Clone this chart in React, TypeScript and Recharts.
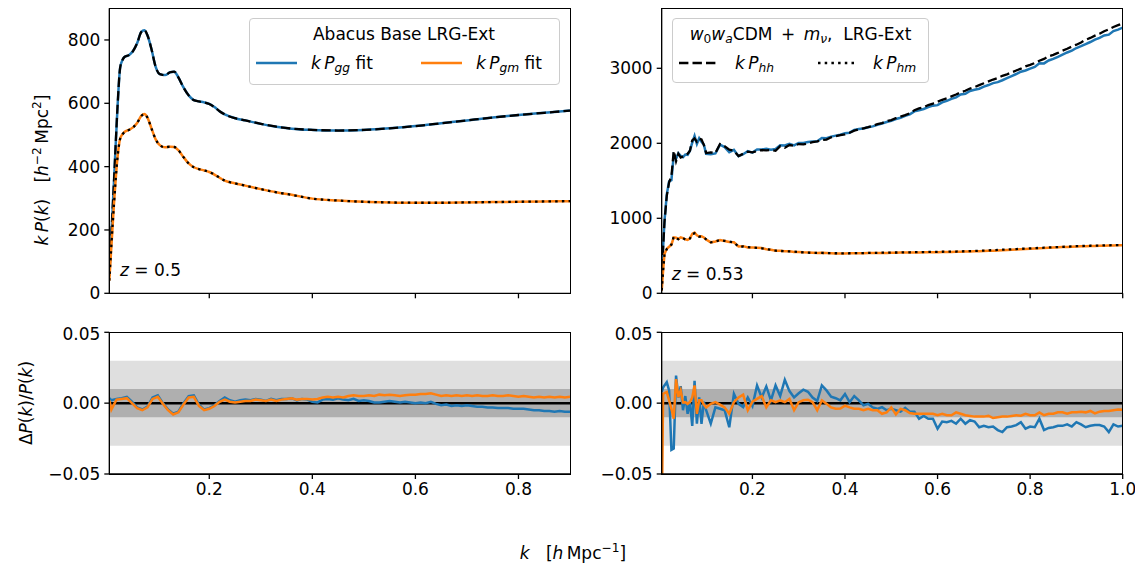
import React from 'react';
import { LineChart, Line, XAxis, YAxis, ReferenceArea, ReferenceLine } from 'recharts';

const FONT = '"DejaVu Sans", sans-serif';
const BLUE = '#1f77b4';
const ORANGE = '#ff7f0e';

// ---- left column: Abacus Base LRG-Ext, z = 0.5 ----
const kBase = [0.006, 0.015, 0.022, 0.027, 0.032, 0.036, 0.044, 0.052, 0.06, 0.068, 0.074, 0.08, 0.088, 0.096, 0.104, 0.114, 0.124, 0.132, 0.14, 0.15, 0.16, 0.17, 0.18, 0.19, 0.2, 0.21, 0.22, 0.23, 0.25, 0.27, 0.3, 0.33, 0.36, 0.4, 0.45, 0.5, 0.55, 0.6, 0.65, 0.7, 0.75, 0.8, 0.85, 0.9];
const kPggBase = [55, 350, 590, 712, 738, 747, 752, 765, 790, 825, 831, 815, 770, 715, 692, 689, 698, 700, 682, 650, 625, 610, 606, 603, 598, 588, 575, 565, 553, 546, 535, 526, 520, 516, 514, 516, 521, 528, 537, 546, 555, 563, 570, 577];
const kPgmBase = [40, 280, 430, 488, 503, 510, 516, 524, 538, 560, 566, 555, 520, 486, 468, 461, 463, 462, 452, 430, 410, 398, 392, 388, 383, 375, 365, 356, 347, 340, 329, 319, 311, 299, 293, 289, 287, 286, 286, 287, 288, 289, 290, 291];

const kBaseRes = [0.006, 0.01, 0.02, 0.03, 0.04, 0.05, 0.06, 0.07, 0.08, 0.09, 0.1, 0.11, 0.12, 0.13, 0.14, 0.15, 0.16, 0.17, 0.18, 0.19, 0.2, 0.21, 0.22, 0.23, 0.24, 0.25, 0.26, 0.27, 0.28, 0.29, 0.3, 0.31, 0.32, 0.33, 0.34, 0.35, 0.36, 0.37, 0.38, 0.39, 0.4, 0.41, 0.42, 0.43, 0.44, 0.45, 0.46, 0.47, 0.48, 0.49, 0.5, 0.51, 0.52, 0.53, 0.54, 0.55, 0.56, 0.57, 0.58, 0.59, 0.6, 0.61, 0.62, 0.63, 0.64, 0.65, 0.66, 0.67, 0.68, 0.69, 0.7, 0.71, 0.72, 0.73, 0.74, 0.75, 0.76, 0.77, 0.78, 0.79, 0.8, 0.81, 0.82, 0.83, 0.84, 0.85, 0.86, 0.87, 0.88, 0.89, 0.9];
const dPggBase = [0.0035, 0.002, 0.003, 0.0035, 0.0045, 0.001, -0.003, -0.0045, -0.0025, 0.004, 0.0055, 0, -0.0045, -0.0075, -0.006, 0, 0.005, 0.0055, -0.001, -0.0045, -0.0035, -0.0015, 0.0015, 0.004, 0.002, 0.001, 0.002, 0.0025, 0.002, 0.003, 0.0025, 0.0015, 0.003, 0.002, 0.003, 0.003, 0.0035, 0.002, 0.003, 0.0025, 0.001, 0.0005, 0.0025, 0.003, 0.0025, 0.0035, 0.0025, 0.002, 0.003, 0.0015, 0.002, 0.0015, 0.0005, 0.0005, 0.001, 0.0015, 0.001, 0.0005, 0.001, 0.0005, 0, 0.0005, 0, 0.001, -0.0005, -0.0015, -0.001, -0.002, -0.0015, -0.002, -0.0015, -0.002, -0.0025, -0.0025, -0.003, -0.003, -0.0035, -0.0035, -0.0035, -0.004, -0.004, -0.004, -0.0045, -0.005, -0.005, -0.0055, -0.0055, -0.006, -0.0055, -0.006, -0.006];
const dPgmBase = [0.002, -0.0045, 0.0025, 0.003, 0.0035, 0, -0.0035, -0.005, -0.003, 0.003, 0.0045, -0.0005, -0.005, -0.008, -0.0065, -0.001, 0.004, 0.0045, -0.002, -0.005, -0.004, -0.002, 0.001, 0.0025, 0.001, 0.0005, 0.001, 0.0015, 0.0015, 0.0025, 0.002, 0.0015, 0.0025, 0.0015, 0.0025, 0.003, 0.0035, 0.0025, 0.003, 0.003, 0.0025, 0.003, 0.004, 0.0045, 0.004, 0.0045, 0.004, 0.005, 0.0055, 0.005, 0.005, 0.0055, 0.005, 0.006, 0.0055, 0.006, 0.0055, 0.005, 0.0055, 0.006, 0.006, 0.0065, 0.0065, 0.007, 0.006, 0.005, 0.0055, 0.005, 0.0055, 0.005, 0.0055, 0.005, 0.0055, 0.005, 0.005, 0.0055, 0.005, 0.005, 0.0055, 0.005, 0.0045, 0.005, 0.0045, 0.004, 0.0045, 0.004, 0.0045, 0.004, 0.0045, 0.004, 0.0045];

// ---- right column: w0waCDM + m_nu, LRG-Ext, z = 0.53 ----
const kW0 = [0.004, 0.007, 0.01, 0.015, 0.02, 0.025, 0.03, 0.035, 0.04, 0.045, 0.05, 0.055, 0.06, 0.065, 0.07, 0.075, 0.08, 0.085, 0.09, 0.095, 0.1, 0.11, 0.12, 0.13, 0.14, 0.15, 0.16, 0.17, 0.18, 0.19, 0.2, 0.21, 0.22, 0.23, 0.24, 0.25, 0.26, 0.27, 0.28, 0.29, 0.3, 0.31, 0.32, 0.33, 0.34, 0.35, 0.36, 0.37, 0.38, 0.39, 0.4, 0.41, 0.42, 0.43, 0.44, 0.45, 0.46, 0.47, 0.48, 0.49, 0.5, 0.51, 0.52, 0.53, 0.54, 0.55, 0.56, 0.57, 0.58, 0.59, 0.6, 0.61, 0.62, 0.63, 0.64, 0.65, 0.66, 0.67, 0.68, 0.69, 0.7, 0.71, 0.72, 0.73, 0.74, 0.75, 0.76, 0.77, 0.78, 0.79, 0.8, 0.81, 0.82, 0.83, 0.84, 0.85, 0.86, 0.87, 0.88, 0.89, 0.9, 0.91, 0.92, 0.93, 0.94, 0.95, 0.96, 0.97, 0.98, 0.99, 1.0];
const kPhhW0 = [150, 600, 950, 1300, 1480, 1560, 1900, 1760, 1860, 1810, 1825, 1840, 1860, 1900, 2040, 2066, 2020, 2060, 2050, 1980, 1870, 1880, 1870, 1990, 1960, 1915, 1900, 1830, 1860, 1888, 1880, 1895, 1910, 1905, 1910, 1900, 1963, 1940, 1977, 1965, 1990, 1985, 2000, 2015, 2025, 2044, 2050, 2080, 2095, 2110, 2120, 2140, 2168, 2185, 2200, 2215, 2232, 2255, 2270, 2295, 2310, 2335, 2355, 2375, 2400, 2440, 2466, 2480, 2510, 2530, 2555, 2580, 2600, 2625, 2650, 2680, 2700, 2730, 2750, 2775, 2800, 2825, 2850, 2870, 2900, 2920, 2945, 2970, 2995, 3025, 3045, 3070, 3100, 3125, 3160, 3180, 3205, 3235, 3260, 3290, 3315, 3345, 3380, 3405, 3435, 3460, 3495, 3520, 3550, 3575, 3600];
const kPhmW0 = [40, 300, 520, 590, 620, 650, 755, 730, 722, 740, 735, 720, 711, 730, 790, 800, 780, 755, 760, 745, 720, 680, 690, 711, 700, 690, 680, 621, 625, 615, 610, 605, 600, 590, 580, 568, 565, 560, 558, 555, 550, 545, 542, 540, 540, 538, 536, 535, 534, 533, 533, 534, 535, 536, 537, 538, 539, 540, 541, 542, 543, 544, 545, 546, 547, 548, 549, 550, 551, 552, 553, 554, 555, 556, 557, 559, 561, 563, 565, 567, 570, 572, 575, 578, 581, 584, 587, 590, 593, 596, 599, 602, 605, 608, 611, 614, 617, 620, 622, 625, 628, 630, 632, 634, 636, 637, 639, 640, 642, 643, 644];
const dPggW0 = [0.008, 0.011, 0.0125, 0.0148, 0.009, -0.033, -0.032, 0.0195, 0.004, 0.012, -0.005, 0.005, -0.0075, 0.001, -0.016, 0.0158, -0.0145, 0.004, -0.0146, 0.001, -0.005, -0.0145, -0.003, -0.004, -0.005, -0.017, 0.0066, -0.0005, -0.0028, 0.004, -0.002, 0.0125, 0.004, 0.0118, 0.002, 0.0125, 0.005, 0.0165, 0.0085, 0.004, 0.007, 0.0095, 0.008, 0.004, 0.0015, 0.0125, 0.009, 0.0045, 0.0035, 0.002, 0.0065, 0.0007, 0.005, 0.002, -0.0015, -0.0005, -0.003, -0.004, -0.0028, -0.005, -0.004, -0.005, -0.006, -0.0033, -0.006, -0.006, -0.011, -0.009, -0.011, -0.011, -0.018, -0.013, -0.0134, -0.0125, -0.0145, -0.011, -0.0145, -0.012, -0.013, -0.017, -0.016, -0.017, -0.0165, -0.019, -0.0204, -0.017, -0.0165, -0.0155, -0.0135, -0.018, -0.0165, -0.017, -0.011, -0.019, -0.0175, -0.017, -0.016, -0.016, -0.015, -0.0165, -0.0134, -0.015, -0.017, -0.016, -0.0155, -0.0155, -0.0165, -0.0204, -0.015, -0.0165, -0.016];
const dPgmW0 = [-0.09, 0.0066, 0.007, 0.0078, 0.002, -0.004, -0.011, 0.017, 0.0042, 0.009, 0.0005, 0.0007, -0.0005, 0.0008, 0.004, 0.0125, -0.0075, 0.002, 0.002, -0.001, -0.003, -0.0005, 0.0007, -0.001, -0.003, -0.0075, 0.0007, 0.004, 0.006, -0.005, 0.001, 0.003, 0.005, -0.003, 0.002, 0.0007, 0.002, 0.0007, 0.003, -0.005, 0.0007, 0.002, 0.0024, 0.0007, -0.005, 0.002, -0.0005, -0.003, -0.004, -0.0038, -0.0018, -0.003, -0.004, -0.004, -0.005, -0.004, -0.005, -0.005, -0.0075, -0.0065, -0.003, -0.008, -0.004, -0.005, -0.007, -0.0075, -0.0075, -0.0075, -0.0075, -0.0075, -0.0085, -0.0075, -0.0085, -0.0085, -0.0065, -0.0075, -0.0085, -0.009, -0.0095, -0.0095, -0.0095, -0.009, -0.0105, -0.01, -0.0095, -0.0095, -0.009, -0.0085, -0.0088, -0.0075, -0.0085, -0.0085, -0.0065, -0.0085, -0.0075, -0.0075, -0.0065, -0.0065, -0.0075, -0.0065, -0.0065, -0.006, -0.0065, -0.0055, -0.0072, -0.006, -0.0055, -0.0055, -0.005, -0.0045, -0.0047];

const baseTop = kBase.map((k, i) => ({ k, gg: kPggBase[i], gm: kPgmBase[i] }));
const baseRes = kBaseRes.map((k, i) => ({ k, gg: dPggBase[i], gm: dPgmBase[i] }));
const w0Top = kW0.map((k, i) => ({
  k,
  hh: kPhhW0[i],
  hm: kPhmW0[i],
  gg: kPhhW0[i] * (1 + dPggW0[i]),
  gm: kPhmW0[i] * (1 + dPgmW0[i]),
}));
const w0Res = kW0.map((k, i) => ({ k, gg: dPggW0[i], gm: dPgmW0[i] }));

const tickStyle = { fill: '#000', fontSize: 17, fontFamily: FONT };
const axisLine = { stroke: '#000', strokeWidth: 1.3 };
const tickLine = { stroke: '#000', strokeWidth: 1.3 };
const DASH = '9.4 4.1';
const DOT = '2.5 4.2';

const fmtRes = (v: number) => (v === 0 ? '0.00' : (v < 0 ? '\u2212' : '') + Math.abs(v).toFixed(2));
const fmtK = (v: number) => v.toFixed(1);

// column geometry: plot area runs from x + yw to x + w - mr
const COLS = {
  left: { x: 0, w: 580, yw: 109.3, mr: 10, xDomain: [0.006, 0.9], xTicks: [0.2, 0.4, 0.6, 0.8] },
  right: { x: 560, w: 575, yw: 101.7, mr: 12.3, xDomain: [0.004, 1.0], xTicks: [0.2, 0.4, 0.6, 0.8, 1.0] },
};

function Box({ col, y1, y2 }: any) {
  // full matplotlib-style frame around a plot area
  const x1 = col.x + col.yw;
  const x2 = col.x + col.w - col.mr;
  return (
    <div style={{ position: 'absolute', left: x1 - 0.65, top: y1 - 0.65, width: x2 - x1 + 1.3, height: y2 - y1 + 1.3, border: '1.3px solid #000', boxSizing: 'border-box', pointerEvents: 'none' }} />
  );
}

function TopPanel({ col, data, yDomain, yTicks, solo }: any) {
  const curve = solo ? 'monotone' : 'linear';
  return (
    <div style={{ position: 'absolute', left: col.x, top: 0 }}>
      <LineChart width={col.w} height={330} data={data} margin={{ top: 8.3, right: col.mr, bottom: 0, left: 0 }}>
        <XAxis dataKey="k" type="number" domain={col.xDomain} ticks={col.xTicks} allowDataOverflow height={36.7}
          tickSize={5} tickFormatter={() => ''} axisLine={axisLine} tickLine={tickLine} />
        <YAxis type="number" domain={yDomain} ticks={yTicks} width={col.yw} allowDataOverflow
          tickSize={5} tickMargin={4} tick={tickStyle} axisLine={axisLine} tickLine={tickLine} />
        <Line dataKey="gg" type={curve} stroke={BLUE} strokeWidth={2.5} dot={false} isAnimationActive={false} />
        <Line dataKey={solo ? 'gg' : 'hh'} type={curve} stroke="#000" strokeWidth={2.3} strokeDasharray={DASH} dot={false} isAnimationActive={false} />
        <Line dataKey="gm" type={curve} stroke={ORANGE} strokeWidth={2.5} dot={false} isAnimationActive={false} />
        <Line dataKey={solo ? 'gm' : 'hm'} type={curve} stroke="#000" strokeWidth={2.3} strokeDasharray={DOT} dot={false} isAnimationActive={false} />
      </LineChart>
    </div>
  );
}

function ResPanel({ col, data }: any) {
  return (
    <div style={{ position: 'absolute', left: col.x, top: 324 }}>
      <LineChart width={col.w} height={190} data={data} margin={{ top: 8.3, right: col.mr, bottom: 0, left: 0 }}>
        <XAxis dataKey="k" type="number" domain={col.xDomain} ticks={col.xTicks} allowDataOverflow height={40}
          tickSize={5} tickMargin={4} tick={tickStyle} tickFormatter={fmtK} axisLine={axisLine} tickLine={tickLine} />
        <YAxis type="number" domain={[-0.05, 0.05]} ticks={[-0.05, 0, 0.05]} width={col.yw} allowDataOverflow
          tickSize={5} tickMargin={4} tick={tickStyle} tickFormatter={fmtRes} axisLine={axisLine} tickLine={tickLine} />
        <ReferenceArea y1={-0.03} y2={0.03} fill="#dfdfdf" fillOpacity={1} stroke="none" />
        <ReferenceArea y1={-0.01} y2={0.01} fill="#afafaf" fillOpacity={1} stroke="none" />
        <ReferenceLine y={0} stroke="#000" strokeWidth={2.5} />
        <Line dataKey="gg" type="linear" stroke={BLUE} strokeWidth={2.5} dot={false} isAnimationActive={false} />
        <Line dataKey="gm" type="linear" stroke={ORANGE} strokeWidth={2.5} dot={false} isAnimationActive={false} />
      </LineChart>
    </div>
  );
}

const txt: React.CSSProperties = { position: 'absolute', fontFamily: FONT, fontSize: 17, color: '#000', whiteSpace: 'nowrap', lineHeight: 1 };
const sub: React.CSSProperties = { fontSize: '0.72em', verticalAlign: '-0.3em', lineHeight: 0 };
const sup: React.CSSProperties = { fontSize: '0.72em', verticalAlign: '0.55em', lineHeight: 0 };

function Swatch({ x, y, w, color, dash }: any) {
  return (
    <svg style={{ position: 'absolute', left: x, top: y - 4, overflow: 'visible' }} width={w} height={8}>
      <line x1={0} y1={4} x2={w} y2={4} stroke={color} strokeWidth={2.5} strokeDasharray={dash} />
    </svg>
  );
}

function LegendBox({ x, y, w, h }: any) {
  return (
    <div style={{ position: 'absolute', left: x, top: y, width: w, height: h, border: '1.3px solid #cccccc', borderRadius: 4, background: 'rgba(255,255,255,0.8)', boxSizing: 'border-box' }} />
  );
}

export default function App() {
  return (
    <div style={{ position: 'absolute', left: 0, top: 0, width: 1143, height: 565, background: '#fff', overflow: 'hidden' }}>
      <TopPanel col={COLS.left} data={baseTop} yDomain={[0, 900]} yTicks={[0, 200, 400, 600, 800]} solo />
      <TopPanel col={COLS.right} data={w0Top} yDomain={[0, 3800]} yTicks={[0, 1000, 2000, 3000]} />
      <ResPanel col={COLS.left} data={baseRes} />
      <ResPanel col={COLS.right} data={w0Res} />

      <Box col={COLS.left} y1={8.3} y2={293.3} />
      <Box col={COLS.right} y1={8.3} y2={293.3} />
      <Box col={COLS.left} y1={332.3} y2={474} />
      <Box col={COLS.right} y1={332.3} y2={474} />

      {/* left legend */}
      <LegendBox x={249} y={18.3} w={311} h={66.7} />
      <div style={{ ...txt, left: 404, top: 34, transform: 'translate(-50%, -50%)' }}>Abacus Base LRG-Ext</div>
      <Swatch x={256} y={63} w={41} color={BLUE} />
      <div style={{ ...txt, left: 311, top: 63, transform: 'translateY(-50%)' }}>
        <i>k</i>&thinsp;<i>P</i><sub style={sub}><i>gg</i></sub> fit
      </div>
      <Swatch x={421} y={63} w={41} color={ORANGE} />
      <div style={{ ...txt, left: 476, top: 63, transform: 'translateY(-50%)' }}>
        <i>k</i>&thinsp;<i>P</i><sub style={sub}><i>gm</i></sub> fit
      </div>

      {/* right legend */}
      <LegendBox x={671.7} y={18.3} w={257.6} h={64.4} />
      <div style={{ ...txt, left: 800.5, top: 34, transform: 'translate(-50%, -50%)' }}>
        <i>w</i><sub style={sub}>0</sub><i>w</i><sub style={sub}><i>a</i></sub>CDM&ensp;+&ensp;<i>m</i><sub style={sub}><i>ν</i></sub>,&nbsp;&nbsp;LRG-Ext
      </div>
      <Swatch x={679} y={63} w={39} color="#000" dash={DASH} />
      <div style={{ ...txt, left: 735, top: 63, transform: 'translateY(-50%)' }}>
        <i>k</i>&thinsp;<i>P</i><sub style={sub}><i>hh</i></sub>
      </div>
      <Swatch x={818} y={63} w={40} color="#000" dash={DOT} />
      <div style={{ ...txt, left: 873, top: 63, transform: 'translateY(-50%)' }}>
        <i>k</i>&thinsp;<i>P</i><sub style={sub}><i>hm</i></sub>
      </div>

      {/* redshift labels */}
      <div style={{ ...txt, left: 120, top: 270, transform: 'translateY(-50%)' }}><i>z</i> = 0.5</div>
      <div style={{ ...txt, left: 671.7, top: 274, transform: 'translateY(-50%)' }}><i>z</i> = 0.53</div>

      {/* axis labels */}
      <div style={{ ...txt, left: 42, top: 170, transform: 'translate(-50%, -50%) rotate(-90deg)' }}>
        <i>k</i>&thinsp;<i>P</i>(<i>k</i>)&nbsp;&nbsp;&nbsp;[<i>h</i><sup style={sup}>−2</sup>&thinsp;Mpc<sup style={sup}>2</sup>]
      </div>
      <div style={{ ...txt, left: 26, top: 403, transform: 'translate(-50%, -50%) rotate(-90deg)' }}>
        Δ<i>P</i>(<i>k</i>)/<i>P</i>(<i>k</i>)
      </div>
      <div style={{ ...txt, left: 573, top: 553, transform: 'translate(-50%, -50%)' }}>
        <i>k</i>&nbsp;&nbsp;&nbsp;[<i>h</i>&thinsp;Mpc<sup style={sup}>−1</sup>]
      </div>
    </div>
  );
}
